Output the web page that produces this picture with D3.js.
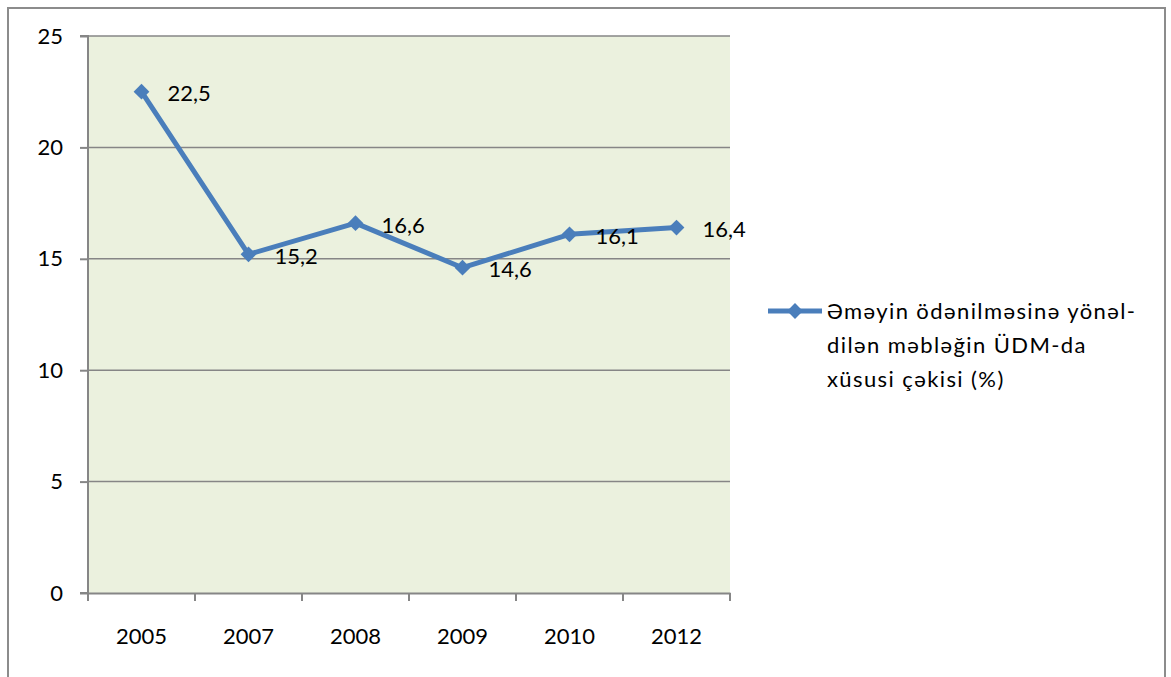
<!DOCTYPE html>
<html>
<head>
<meta charset="utf-8">
<script src="https://cdn.jsdelivr.net/npm/d3@7"></script>
<style>
  body { margin: 0; background: #fff; }
  text { font-family: Lato, 'Open Sans', 'DejaVu Sans', sans-serif; fill: #000; }
</style>
</head>
<body>
<div id="vis"></div>
<script>
'use strict';

//data
var years = ['2005', '2007', '2008', '2009', '2010', '2012'];
var shares = [22.5, 15.2, 16.6, 14.6, 16.1, 16.4];
var valueLabels = ['22,5', '15,2', '16,6', '14,6', '16,1', '16,4'];
var yTicks = [0, 5, 10, 15, 20, 25];
var legendLines = ['Əməyin ödənilməsinə yönəl-', 'dilən məbləğin ÜDM-da', 'xüsusi çəkisi (%)'];

//layout
var width = 1171, height = 677;
var plot = { left: 88, right: 730, top: 36, bottom: 593 };
var colors = { line: '#4A7EBB', grid: '#868686', bg: '#EBF1DE', frame: '#8C8C8C' };

var x = d3.scaleBand().domain(years).range([plot.left, plot.right]);
var y = d3.scaleLinear().domain([0, 25]).range([plot.bottom, plot.top]);

var svg = d3.select('#vis').append('svg')
    .attr('width', width)
    .attr('height', height);

//chart frame
svg.append('rect')
    .attr('x', 8).attr('y', 8)
    .attr('width', 1157).attr('height', 700)
    .attr('fill', '#fff')
    .attr('stroke', colors.frame)
    .attr('stroke-width', 2);

//plot background
svg.append('rect')
    .attr('x', plot.left).attr('y', plot.top)
    .attr('width', plot.right - plot.left)
    .attr('height', plot.bottom - plot.top)
    .attr('fill', colors.bg);

//gridlines
svg.selectAll('.grid')
    .data(yTicks.slice(1))
    .enter().append('line')
    .attr('x1', plot.left).attr('x2', plot.right)
    .attr('y1', function (d) { return y(d); })
    .attr('y2', function (d) { return y(d); })
    .attr('stroke', colors.grid)
    .attr('stroke-width', 1.5);

//y axis
var yAxisG = svg.append('g')
    .attr('transform', 'translate(' + plot.left + ',0)')
    .call(d3.axisLeft(y).tickValues(yTicks).tickSize(8).tickPadding(17));
yAxisG.selectAll('line, path').attr('stroke', colors.grid).attr('stroke-width', 2);
yAxisG.select('.domain').attr('d', 'M-8,' + plot.bottom + 'H0V' + plot.top + 'H-8');
yAxisG.selectAll('text')
    .style('font-size', '22px')
    .attr('fill', '#000');

//x axis
var xAxisG = svg.append('g')
    .attr('transform', 'translate(0,' + plot.bottom + ')')
    .call(d3.axisBottom(x).tickSize(0).tickPadding(35));
xAxisG.select('.domain').attr('stroke', colors.grid).attr('stroke-width', 2);
xAxisG.selectAll('text')
    .style('font-size', '22px')
    .attr('fill', '#000');

//x ticks between categories
var edges = years.map(function (d) { return x(d); }).concat([x.range()[1]]);
xAxisG.selectAll('.edge-tick')
    .data(edges)
    .enter().append('line')
    .attr('x1', function (d) { return d; })
    .attr('x2', function (d) { return d; })
    .attr('y2', 8)
    .attr('stroke', colors.grid)
    .attr('stroke-width', 2);

//series line
var pts = years.map(function (yr, i) {
    return { x: x(yr) + x.bandwidth() / 2, y: y(shares[i]), label: valueLabels[i] };
});
svg.append('path')
    .datum(pts)
    .attr('d', d3.line().x(function (d) { return d.x; }).y(function (d) { return d.y; }))
    .attr('fill', 'none')
    .attr('stroke', colors.line)
    .attr('stroke-width', 5)
    .attr('stroke-linejoin', 'round');

var diamond = d3.symbol().type(d3.symbolSquare).size(125);
svg.selectAll('.marker')
    .data(pts)
    .enter().append('path')
    .attr('d', diamond)
    .attr('transform', function (d) { return 'translate(' + d.x + ',' + d.y + ') rotate(45)'; })
    .attr('fill', colors.line);

//value labels
svg.selectAll('.vlabel')
    .data(pts)
    .enter().append('text')
    .attr('x', function (d) { return d.x + 26; })
    .attr('y', function (d) { return d.y + 2; })
    .attr('dy', '0.35em')
    .style('font-size', '22px')
    .text(function (d) { return d.label; });

//legend
var lg = svg.append('g').attr('transform', 'translate(768,311)');
lg.append('line')
    .attr('x2', 54)
    .attr('stroke', colors.line)
    .attr('stroke-width', 5);
lg.append('path')
    .attr('d', diamond)
    .attr('transform', 'translate(27,0) rotate(45)')
    .attr('fill', colors.line);
lg.selectAll('.ltext')
    .data(legendLines)
    .enter().append('text')
    .attr('x', 59)
    .attr('y', function (d, i) { return i * 34; })
    .attr('dy', '0.35em')
    .style('font-size', '22px')
    .style('letter-spacing', '1.4px')
    .text(function (d) { return d; });
</script>
</body>
</html>
